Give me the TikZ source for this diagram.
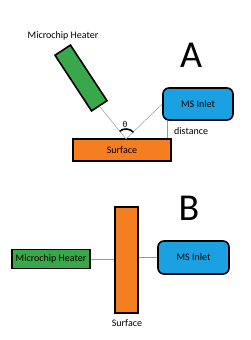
\documentclass[tikz,border=0pt]{standalone}
\usepackage{fontspec}
\setmainfont{Carlito}
\definecolor{chipgreen}{RGB}{56,168,74}
\definecolor{surforange}{RGB}{245,126,32}
\definecolor{msblue}{RGB}{27,161,226}
\begin{document}
\begin{tikzpicture}[x=1pt,y=1pt,
  box/.style={draw=black,line width=1.6pt,inner sep=0pt,font=\fontsize{10}{12}\selectfont},
  heater/.style={box,fill=chipgreen},
  surf/.style={box,fill=surforange},
  msbox/.style={box,fill=msblue,rounded corners=6pt},
  conn/.style={draw=gray!80,line width=0.5pt},
  lbl/.style={font=\fontsize{10}{12}\selectfont,inner sep=0pt},
  big/.style={font=\fontsize{38}{40}\selectfont,inner sep=0pt}]
\useasboundingbox (0,0) rectangle (250,340);
% Panel A
\node[lbl] (hlabA) at (63,304) {Microchip Heater};
\node[big] (labA) at (191,285) {A};
\node[heater,minimum width=66.6pt,minimum height=18.5pt,rotate=-56.7] (heaterA) at (81,262) {};
\node[msbox,minimum width=70pt,minimum height=32pt] (msA) at (198,236) {MS Inlet};
\node[surf,minimum width=98pt,minimum height=22pt] (surfA) at (122,190) {Surface};
\coordinate (v) at (126,201);
\draw[conn] (heaterA.east) -- (v) -- (msA.west);
\draw[line width=1.6pt] ([shift={(42.6:10)}]v) arc[start angle=42.6,end angle=129,radius=10];
\node[lbl,font=\fontsize{9}{10}\selectfont] (theta) at (125,216) {θ};
\coordinate (d1) at ([xshift=5pt]msA.south west);
\draw[conn] (d1) -- (d1 |- surfA.north);
\node[lbl,anchor=west] (dist) at (174,209) {distance};
% Panel B
\node[big] (labB) at (189,132) {B};
\node[heater,minimum width=78pt,minimum height=19pt] (heaterB) at (51,81) {Microchip Heater};
\node[surf,minimum width=23pt,minimum height=106pt] (surfB) at (126.5,80) {};
\node[msbox,minimum width=71pt,minimum height=33pt] (msB) at (193.5,82.5) {MS Inlet};
\draw[conn] (heaterB.east) -- (heaterB.east -| surfB.west);
\draw[conn] (msB.west -| surfB.east) -- (msB.west);
\node[lbl] (surflabB) at (127,17) {Surface};
\end{tikzpicture}
\end{document}
